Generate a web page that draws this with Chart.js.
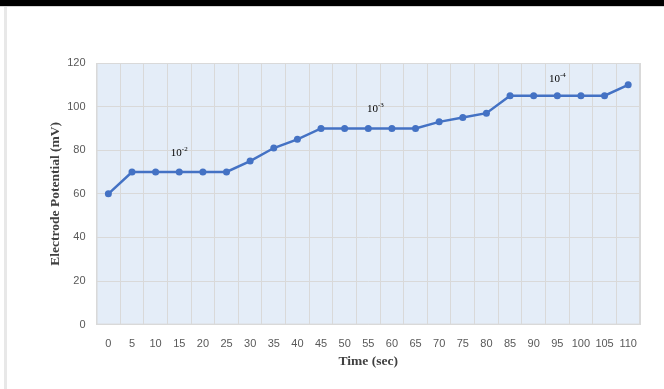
<!DOCTYPE html>
<html>
<head>
<meta charset="utf-8">
<script src="https://cdn.jsdelivr.net/npm/chart.js@4"></script>
<style>
  html, body { margin: 0; padding: 0; background: #fff; }
  #wrap { position: relative; width: 664px; height: 389px; overflow: hidden; }
  #topbar { position: absolute; left: 0; top: 0; width: 664px; height: 6px; background: #000; }
  #topline { position: absolute; left: 0; top: 6px; width: 664px; height: 1px; background: #d6d6d6; }
  #sidebar { position: absolute; left: 4px; top: 7px; width: 3px; height: 382px; background: #e8e8e8; }
  canvas { position: absolute; left: 0; top: 0; }
</style>
</head>
<body>
<div id="wrap">
  <canvas id="c" width="664" height="389"></canvas>
  <div id="topbar"></div>
  <div id="topline"></div>
  <div id="sidebar"></div>
</div>
<script>
// Time points (sec) and measured electrode potential (mV)
const timeLabels = ['0','5','10','15','20','25','30','35','40','45','50','55','60','65','70','75','80','85','90','95','100','105','110'];
const potential = [60, 70, 70, 70, 70, 70, 75, 81, 85, 90, 90, 90, 90, 90, 93, 95, 97, 105, 105, 105, 105, 105, 110];
const yTicks = [0, 20, 40, 60, 80, 100, 120];

// Concentration tags written over the plateaus: base, exponent, anchor (category index, value)
const concBase = ['10', '10', '10'];
const concExp = ['-2', '-3', '-4'];
const concAt = [[3, 79], [11.3, 99.5], [19, 113]];

const plotBg = {
  id: 'plotBg',
  beforeDraw(chart) {
    const a = chart.chartArea, ctx = chart.ctx;
    ctx.save();
    ctx.fillStyle = '#e4edf8';
    ctx.fillRect(a.left, a.top, a.right - a.left, a.bottom - a.top);
    ctx.restore();
  },
  afterDraw(chart) {
    const a = chart.chartArea, ctx = chart.ctx;
    ctx.save();
    ctx.strokeStyle = '#d9d9d9';
    ctx.lineWidth = 1;
    ctx.strokeRect(a.left + 0.5, a.top + 0.5, a.right - a.left - 1, a.bottom - a.top - 1);
    ctx.restore();
  }
};

const concTags = {
  id: 'concTags',
  afterDatasetsDraw(chart) {
    const x = chart.scales.x, y = chart.scales.y, ctx = chart.ctx;
    ctx.save();
    ctx.fillStyle = '#000';
    ctx.textBaseline = 'alphabetic';
    ctx.textAlign = 'left';
    for (let i = 0; i < concBase.length; i++) {
      ctx.font = '11px "Liberation Serif", serif';
      const bw = ctx.measureText(concBase[i]).width;
      ctx.font = '7px "Liberation Serif", serif';
      const ew = ctx.measureText(concExp[i]).width;
      const cx = x.getPixelForValue(concAt[i][0]);
      const cy = y.getPixelForValue(concAt[i][1]);
      const left = cx - (bw + ew) / 2;
      ctx.font = '11px "Liberation Serif", serif';
      ctx.fillText(concBase[i], left, cy + 4);
      ctx.font = '7px "Liberation Serif", serif';
      ctx.fillText(concExp[i], left + bw, cy - 1);
    }
    ctx.restore();
  }
};

new Chart(document.getElementById('c'), {
  type: 'line',
  data: {
    labels: timeLabels,
    datasets: [{
      data: potential,
      borderColor: '#4472c4',
      backgroundColor: '#4472c4',
      borderWidth: 2.5,
      pointRadius: 3.5,
      pointHoverRadius: 3.5,
      pointBorderWidth: 0,
      tension: 0,
      fill: false
    }]
  },
  options: {
    responsive: false,
    animation: false,
    events: [],
    layout: { padding: { left: 43, right: 24, top: 63, bottom: 15 } },
    plugins: { legend: { display: false }, tooltip: { enabled: false } },
    scales: {
      x: {
        type: 'category',
        offset: true,
        grid: { offset: true, color: '#d9d9d9', drawTicks: false, tickLength: 0 },
        border: { display: false },
        ticks: { color: '#595959', font: { family: '"Liberation Sans", sans-serif', size: 11 }, padding: 13, maxRotation: 0, autoSkip: false },
        title: { display: true, text: 'Time (sec)', color: '#404040', font: { family: '"Liberation Serif", serif', size: 13.5, weight: 'bold' }, padding: { top: -10, bottom: 4 } }
      },
      y: {
        min: 0,
        max: 120,
        afterBuildTicks(axis) { axis.ticks = yTicks.map(v => ({ value: v })); },
        grid: { color: '#d9d9d9', drawTicks: false, tickLength: 0 },
        border: { display: false },
        ticks: { color: '#595959', font: { family: '"Liberation Sans", sans-serif', size: 11 }, padding: 11 },
        title: { display: true, text: 'Electrode Potential (mV)', color: '#404040', font: { family: '"Liberation Serif", serif', size: 13.5, weight: 'bold' }, padding: { top: 4, bottom: -7 } }
      }
    }
  },
  plugins: [plotBg, concTags]
});
</script>
</body>
</html>
